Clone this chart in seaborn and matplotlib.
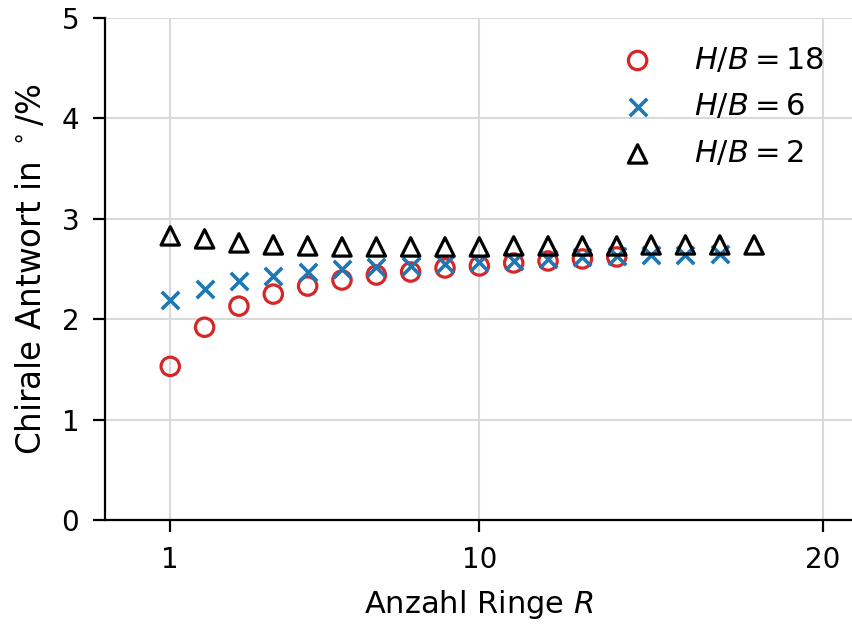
import matplotlib
matplotlib.use("Agg")
import matplotlib.pyplot as plt
import seaborn as sns
import pandas as pd

# Chiral response vs. number of rings for three aspect ratios H/B
rings_18 = list(range(1, 15))
resp_18 = [1.53, 1.92, 2.13, 2.25, 2.33, 2.39, 2.44, 2.47, 2.51, 2.53, 2.56, 2.58, 2.60, 2.62]

rings_6 = list(range(1, 18))
resp_6 = [2.19, 2.30, 2.38, 2.43, 2.47, 2.50, 2.52, 2.53, 2.55, 2.57, 2.58, 2.60, 2.62,
          2.63, 2.64, 2.64, 2.65]

rings_2 = list(range(1, 19))
resp_2 = [2.83, 2.80, 2.76, 2.74, 2.73, 2.72, 2.72, 2.72, 2.72, 2.72, 2.73, 2.73, 2.73,
          2.73, 2.74, 2.74, 2.74, 2.74]

x_ticks = [1, 10, 20]
y_ticks = [0, 1, 2, 3, 4, 5]

sns.set_style("ticks")
plt.rcParams["font.family"] = ["DejaVu Sans"]
plt.rcParams["mathtext.fontset"] = "dejavusans"
for key in ("text.color", "axes.labelcolor", "xtick.color", "ytick.color"):
    plt.rcParams[key] = "black"

fig = plt.figure(figsize=(8.52, 6.24), dpi=100)
ax = fig.add_axes([105 / 852, 104 / 624, 747 / 852, 502 / 624])

df18 = pd.DataFrame({"R": rings_18, "y": resp_18})
df6 = pd.DataFrame({"R": rings_6, "y": resp_6})
df2 = pd.DataFrame({"R": rings_2, "y": resp_2})

msize = 175
lw = 2.3
sns.scatterplot(data=df18, x="R", y="y", ax=ax, marker="o", s=msize,
                facecolors="none", edgecolor="#d62728", linewidth=lw,
                label=r"$H/B = 18$", zorder=3)
sns.scatterplot(data=df6, x="R", y="y", ax=ax, marker="x", s=msize * 0.9,
                color="#1f77b4", linewidth=lw + 0.3,
                label=r"$H/B = 6$", zorder=3)
sns.scatterplot(data=df2, x="R", y="y", ax=ax, marker="^", s=msize,
                facecolors="none", edgecolor="black", linewidth=lw,
                label=r"$H/B = 2$", zorder=3)

ax.set_xlim(-0.9, 20.85)
ax.set_ylim(0, 5)
ax.set_xticks(x_ticks)
ax.set_yticks(y_ticks)
ax.grid(True, color="#d9d9d9", linewidth=1.5)
ax.set_axisbelow(True)

for side in ("top", "right"):
    ax.spines[side].set_visible(False)
for side in ("left", "bottom"):
    ax.spines[side].set_linewidth(1.6)
    ax.spines[side].set_color("black")

ax.tick_params(axis="both", labelsize=20, length=8.5, width=1.6, color="black",
               labelcolor="black", direction="out", pad=10)
ax.set_xlabel(r"Anzahl Ringe $R$", fontsize=22, labelpad=10)
ax.set_ylabel(r"Chirale Antwort in $^\circ$/%", fontsize=23.5, labelpad=10)

leg = ax.legend(loc="upper right", frameon=False, fontsize=22,
                handletextpad=0.85, labelspacing=0.58, borderaxespad=0.5)

fig.savefig("out.png", dpi=100)
